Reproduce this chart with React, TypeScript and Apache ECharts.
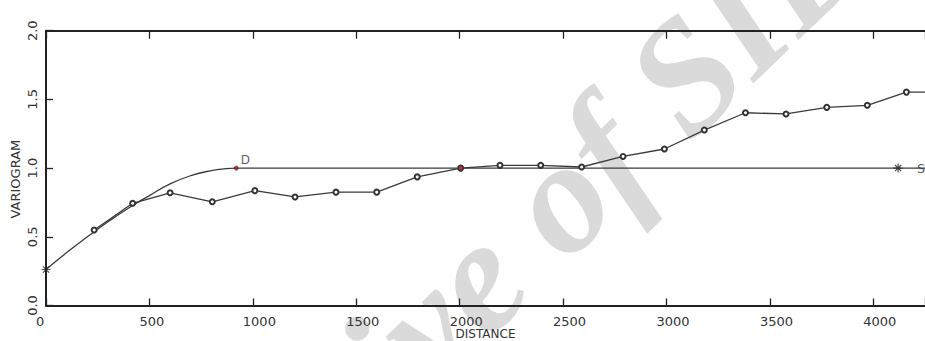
import React, { useEffect, useRef } from "react";
import * as echarts from "echarts";

// Experimental variogram (lag distance, value)
const lagDistances = [233, 419, 600, 804, 1010, 1204, 1402, 1599, 1795, 2005, 2195, 2392, 2590, 2790, 2990, 3183, 3382, 3578, 3775, 3971, 4160, 4355];
const variogramValues = [0.55, 0.744, 0.82, 0.755, 0.836, 0.79, 0.825, 0.825, 0.936, 1.0, 1.02, 1.02, 1.008, 1.085, 1.139, 1.277, 1.403, 1.394, 1.442, 1.457, 1.553, 1.553];

// Fitted model curve
const modelDistances = [0, 100, 200, 300, 400, 500, 600, 700, 800, 870, 920];
const modelValues = [0.262, 0.385, 0.5, 0.61, 0.71, 0.8, 0.885, 0.945, 0.982, 0.996, 1.0];
const sillDistances = [920, 4250];
const sillValues = [1.0, 1.0];

// Marked points
const starDistances = [0, 4120];
const starValues = [0.262, 1.0];
const starNames = ["", "S"];
const redDistances = [920, 2008];
const redValues = [1.0, 1.0];
const redNames = ["D", ""];

const xMin = 0;
const xMax = 4250;
const xStep = 500;
const yMin = 0;
const yMax = 2;
const yStep = 0.5;

const zip = (xs: number[], ys: number[]) => xs.map((x, i) => [x, ys[i]]);

const STAR = "path://M0,5L10,5M5,0L5,10M1.6,1.6L8.4,8.4M8.4,1.6L1.6,8.4";
const INK = "#333";
const FONT = "DejaVu Sans";

export default function App() {
  const ref = useRef<HTMLDivElement>(null);
  useEffect(() => {
    if (!ref.current) return;
    const chart = echarts.init(ref.current, undefined, { renderer: "svg" });
    const axisLine = { show: true, lineStyle: { color: "#222", width: 2 } };
    const axisTick = { show: true, inside: true, length: 7, lineStyle: { color: "#222", width: 1.3 } };
    chart.setOption({
      animation: false,
      backgroundColor: "#fff",
      grid: {
        left: 46,
        right: 0,
        top: 30.7,
        bottom: 35.5,
        containLabel: false,
        outerBoundsMode: "none",
      },
      graphic: [
        {
          type: "text",
          x: 487,
          y: 266,
          rotation: (44 * Math.PI) / 180,
          z: -10,
          silent: true,
          style: {
            text: "Archive of SID",
            fontSize: 160,
            fontFamily: "Liberation Serif",
            fontStyle: "italic",
            fontWeight: "bold",
            fill: "#dadada",
            textAlign: "center",
            textVerticalAlign: "middle",
          },
        },
      ],
      xAxis: [
        {
          type: "value",
          position: "bottom",
          min: xMin,
          max: xMax,
          interval: xStep,
          axisLine,
          axisTick,
          splitLine: { show: false },
          axisLabel: {
            formatter: (v: number) => (v % xStep === 0 ? String(v) : ""),
            fontSize: 13,
            lineHeight: 13,
            fontFamily: FONT,
            color: INK,
            align: "left",
            padding: [0, 0, 0, -10],
            margin: 9,
          },
          name: "DISTANCE",
          nameLocation: "middle",
          nameGap: 22.5,
          nameMoveOverlap: false,
          nameTextStyle: { fontSize: 12, lineHeight: 12, fontFamily: FONT, color: INK },
        },
        {
          type: "value",
          position: "top",
          min: xMin,
          max: xMax,
          interval: xStep,
          axisLine,
          axisTick: { ...axisTick, length: 8 },
          splitLine: { show: false },
          axisLabel: { show: false },
        },
      ],
      yAxis: {
        type: "value",
        min: yMin,
        max: yMax,
        interval: yStep,
        axisLine,
        axisTick,
        splitLine: { show: false },
        axisLabel: {
          rotate: 90,
          formatter: (v: number) => v.toFixed(1),
          fontSize: 13,
          fontFamily: FONT,
          color: INK,
          margin: 7,
        },
        name: "VARIOGRAM",
        nameLocation: "middle",
        nameGap: 24,
        nameMoveOverlap: false,
        nameTextStyle: { fontSize: 13, fontFamily: FONT, color: INK, padding: [0, 22, 0, 0] },
      },
      series: [
        {
          type: "line",
          data: zip(modelDistances, modelValues),
          smooth: true,
          symbol: "none",
          lineStyle: { color: "#3a3a3a", width: 1.3 },
        },
        {
          type: "line",
          data: zip(sillDistances, sillValues),
          symbol: "none",
          lineStyle: { color: "#3a3a3a", width: 1.3 },
        },
        {
          type: "line",
          data: zip(lagDistances, variogramValues),
          symbol: "emptyCircle",
          symbolSize: 5,
          lineStyle: { color: "#3a3a3a", width: 1.3 },
          itemStyle: { color: "#333", borderColor: "#333", borderWidth: 1 },
        },
        {
          type: "scatter",
          data: zip(redDistances, redValues),
          symbol: "circle",
          symbolSize: 5,
          itemStyle: { color: "#8a1c24" },
          label: {
            show: true,
            position: "right",
            distance: 0,
            offset: [2, -8],
            formatter: (p: any) => redNames[p.dataIndex],
            fontSize: 12,
            fontFamily: FONT,
            color: INK,
          },
          z: 5,
        },
        {
          type: "scatter",
          data: zip(starDistances, starValues),
          symbol: STAR,
          symbolSize: 9,
          itemStyle: { color: "none", borderColor: "#222", borderWidth: 1.2 },
          label: {
            show: true,
            position: "right",
            distance: 12,
            formatter: (p: any) => starNames[p.dataIndex],
            fontSize: 13,
            fontFamily: FONT,
            color: INK,
          },
          z: 5,
        },
      ],
    });
    return () => chart.dispose();
  }, []);
  return (
    <div
      ref={ref}
      style={{ position: "absolute", left: 0, top: 0, width: 925, height: 341 }}
    />
  );
}
